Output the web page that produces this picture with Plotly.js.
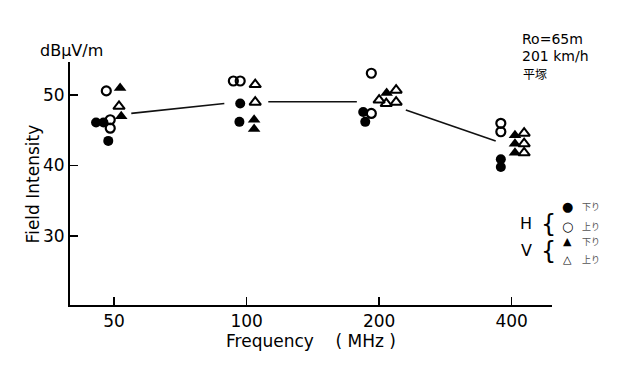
<!DOCTYPE html>
<html>
<head>
<meta charset="utf-8">
<script src="https://cdn.plot.ly/plotly-3.0.1.min.js"></script>
<style>html,body{margin:0;padding:0;background:#fff;}#chart{width:640px;height:367px;}</style>
</head>
<body>
<div id="chart"></div>
<script>
// Frequency (MHz), field intensity (dBμV/m)
const hDownX = [45.5, 47.3, 48.5, 96.7, 96.3, 184, 186, 378, 378];
const hDownY = [46.1, 46.1, 43.5, 48.8, 46.2, 47.6, 46.2, 40.9, 39.8];
const hUpX = [48, 49, 49, 93.3, 96.7, 192, 192, 378, 378];
const hUpY = [50.6, 46.5, 45.3, 52.0, 52.0, 53.1, 47.4, 46.0, 44.8];
const vDownX = [51.6, 51.9, 104, 104, 208, 407, 407, 407];
const vDownY = [51.0, 47.0, 46.5, 45.2, 50.3, 44.3, 43.1, 41.8];
const vUpX = [51.3, 104.6, 104.6, 200, 207.6, 218.6, 218.6, 427, 427, 427];
const vUpY = [48.4, 51.5, 49.0, 49.3, 48.8, 50.7, 49.0, 44.6, 43.1, 41.8];
const lineX = [54.7, 89, null, 112, 178, null, 230, 368];
const lineY = [47.4, 48.8, null, 49.05, 49.05, null, 47.9, 43.5];
const xTicks = [50, 100, 200, 400];
const yTicks = [30, 40, 50];

const font = 'DejaVu Sans, Liberation Sans, sans-serif';
const traces = [
  {x: lineX, y: lineY, mode: 'lines', line: {color: '#111', width: 1.6}, connectgaps: false, hoverinfo: 'skip'},
  {x: hDownX, y: hDownY, mode: 'markers', name: 'H 下り', marker: {symbol: 'circle', size: 10, color: '#000'}},
  {x: hUpX, y: hUpY, mode: 'markers', name: 'H 上り', marker: {symbol: 'circle-open', size: 9, color: '#000', line: {width: 2.2, color: '#000'}}},
  {x: vDownX, y: vDownY, mode: 'markers', name: 'V 下り', marker: {symbol: 'triangle-up', size: 11, color: '#000'}},
  {x: vUpX, y: vUpY, mode: 'markers', name: 'V 上り', marker: {symbol: 'triangle-up-open', size: 10, color: '#000', line: {width: 2, color: '#000'}}}
];

const cjk = 'Noto Sans CJK JP, sans-serif';
const ann = [
  {xref: 'paper', yref: 'paper', x: 0.004, y: 1.049, xanchor: 'center', yanchor: 'middle', text: 'dBμV/m', showarrow: false, font: {family: font, size: 16, color: '#000'}},
  {xref: 'paper', yref: 'paper', x: -0.077, y: 0.5, xanchor: 'center', yanchor: 'middle', textangle: -90, text: 'Field Intensity', showarrow: false, font: {family: font, size: 17, color: '#000'}},
  {xref: 'paper', yref: 'paper', x: 0.936, y: 1.093, xanchor: 'left', yanchor: 'middle', text: 'Ro=65m', showarrow: false, borderpad: 0, font: {family: font, size: 14, color: '#000'}},
  {xref: 'paper', yref: 'paper', x: 0.936, y: 1.025, xanchor: 'left', yanchor: 'middle', text: '201 km/h', showarrow: false, borderpad: 0, font: {family: font, size: 14, color: '#000'}},
  {xref: 'paper', yref: 'paper', x: 0.938, y: 0.952, xanchor: 'left', yanchor: 'middle', text: '平塚', showarrow: false, borderpad: 0, font: {family: cjk, size: 12, color: '#000'}},
  // legend
  {xref: 'paper', yref: 'paper', x: 0.947, y: 0.335, xanchor: 'center', yanchor: 'middle', text: 'H', showarrow: false, font: {family: font, size: 16, color: '#000'}},
  {xref: 'paper', yref: 'paper', x: 0.992, y: 0.333, xanchor: 'center', yanchor: 'middle', text: '{', showarrow: false, font: {family: font, size: 24, color: '#000'}},
  {xref: 'paper', yref: 'paper', x: 0.947, y: 0.225, xanchor: 'center', yanchor: 'middle', text: 'V', showarrow: false, font: {family: font, size: 16, color: '#000'}},
  {xref: 'paper', yref: 'paper', x: 0.992, y: 0.223, xanchor: 'center', yanchor: 'middle', text: '{', showarrow: false, font: {family: font, size: 24, color: '#000'}},
  {xref: 'paper', yref: 'paper', x: 1.033, y: 0.405, xanchor: 'center', yanchor: 'middle', text: '●', showarrow: false, font: {family: font, size: 13, color: '#000'}},
  {xref: 'paper', yref: 'paper', x: 1.033, y: 0.322, xanchor: 'center', yanchor: 'middle', text: '○', showarrow: false, font: {family: font, size: 13, color: '#000'}},
  {xref: 'paper', yref: 'paper', x: 1.033, y: 0.263, xanchor: 'center', yanchor: 'middle', text: '▲', showarrow: false, font: {family: font, size: 11, color: '#000'}},
  {xref: 'paper', yref: 'paper', x: 1.033, y: 0.187, xanchor: 'center', yanchor: 'middle', text: '△', showarrow: false, font: {family: font, size: 11, color: '#000'}},
  {xref: 'paper', yref: 'paper', x: 1.06, y: 0.405, xanchor: 'left', yanchor: 'middle', text: '下り', showarrow: false, borderpad: 0, font: {family: cjk, size: 9, color: '#555'}},
  {xref: 'paper', yref: 'paper', x: 1.06, y: 0.322, xanchor: 'left', yanchor: 'middle', text: '上り', showarrow: false, borderpad: 0, font: {family: cjk, size: 9, color: '#555'}},
  {xref: 'paper', yref: 'paper', x: 1.06, y: 0.263, xanchor: 'left', yanchor: 'middle', text: '下り', showarrow: false, borderpad: 0, font: {family: cjk, size: 9, color: '#555'}},
  {xref: 'paper', yref: 'paper', x: 1.06, y: 0.187, xanchor: 'left', yanchor: 'middle', text: '上り', showarrow: false, borderpad: 0, font: {family: cjk, size: 9, color: '#555'}}
];

const layout = {
  width: 640, height: 367,
  margin: {l: 70, r: 88, t: 62, b: 62},
  paper_bgcolor: '#fff', plot_bgcolor: '#fff',
  showlegend: false,
  font: {family: font, color: '#000'},
  xaxis: {
    type: 'log', range: [Math.log10(39.7), Math.log10(494)],
    tickvals: xTicks, ticktext: xTicks.map(String),
    ticks: 'inside', ticklen: 8, tickwidth: 1.5, tickcolor: '#000',
    showline: true, linecolor: '#000', linewidth: 2, showgrid: false, zeroline: false,
    tickfont: {family: font, size: 17, color: '#000'},
    title: {text: 'Frequency &nbsp;&nbsp;&nbsp;( MHz )', font: {family: font, size: 17, color: '#000'}, standoff: 2}
  },
  yaxis: {
    range: [20.2, 54.7],
    tickvals: yTicks, ticktext: yTicks.map(String),
    ticks: 'inside', ticklen: 8, tickwidth: 1.5, tickcolor: '#000',
    showline: true, linecolor: '#000', linewidth: 2, showgrid: false, zeroline: false,
    tickfont: {family: font, size: 17, color: '#000'}
  },
  annotations: ann
};

Plotly.newPlot('chart', traces, layout, {staticPlot: true, displayModeBar: false});
</script>
</body>
</html>
